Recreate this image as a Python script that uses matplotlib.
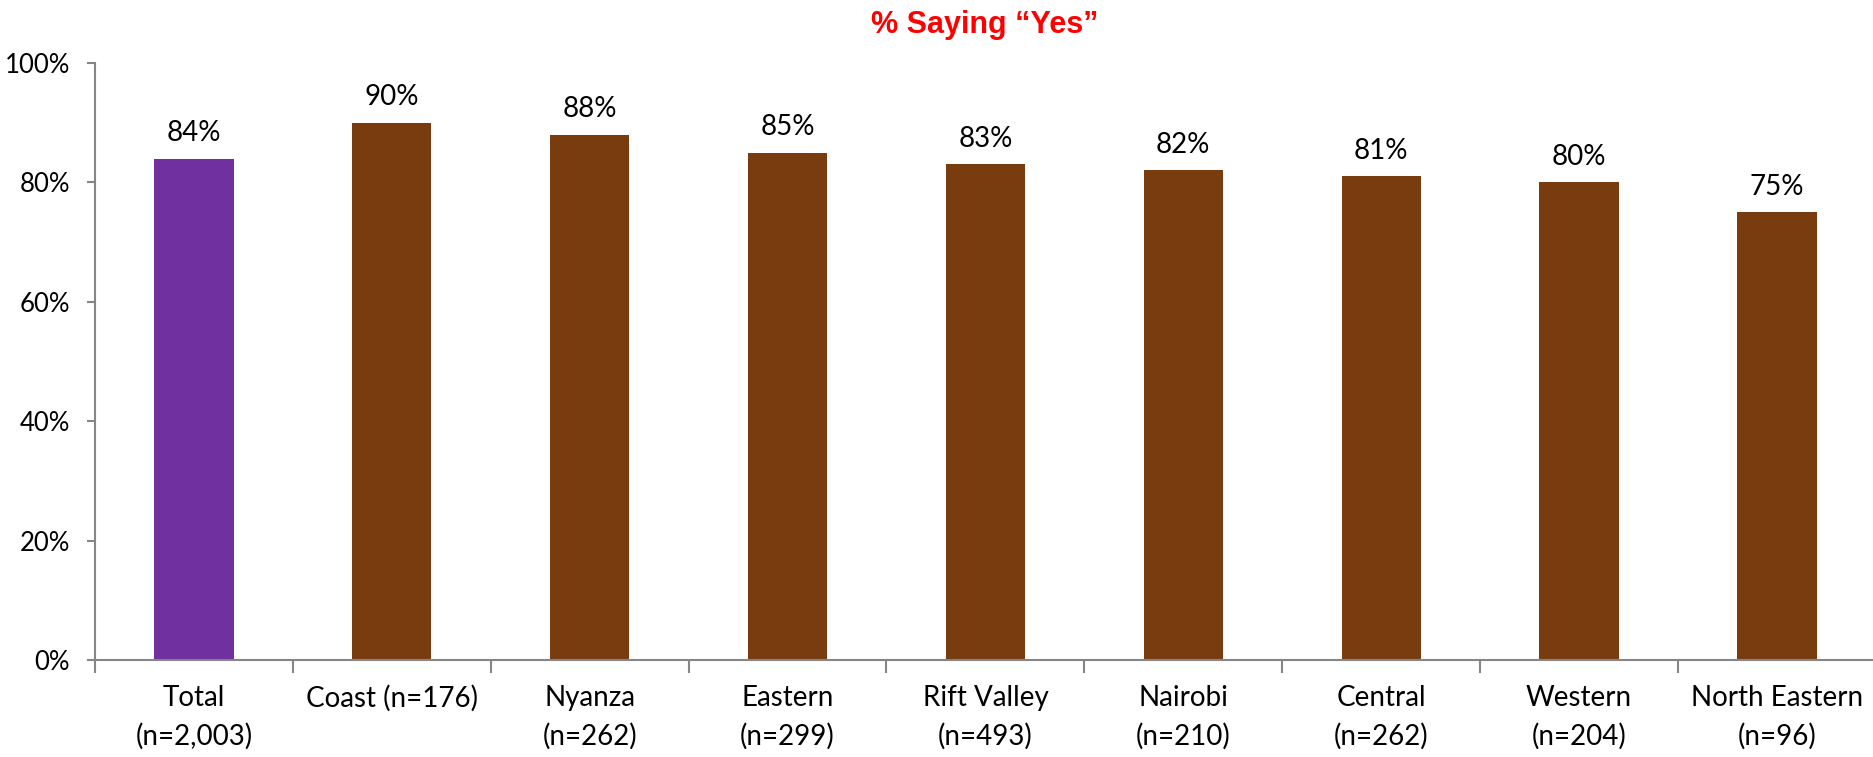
import matplotlib.pyplot as plt
import numpy as np

categories = ["Total\n(n=2,003)", "Coast (n=176)", "Nyanza\n(n=262)", "Eastern\n(n=299)",
              "Rift Valley\n(n=493)", "Nairobi\n(n=210)", "Central\n(n=262)",
              "Western\n(n=204)", "North Eastern\n(n=96)"]
values = [84, 90, 88, 85, 83, 82, 81, 80, 75]
bar_colors = ["#7030A0"] + ["#783C0F"] * 8
yticks = [0, 20, 40, 60, 80, 100]

plt.rcParams['font.family'] = ['Lato', 'DejaVu Sans']

fig = plt.figure(figsize=(18.74, 7.57), dpi=100)
ax = fig.add_axes([95 / 1874, 1 - 660 / 757, 1 - 95 / 1874 + 0.001, (660 - 63) / 757])

x = np.arange(len(categories))
ax.bar(x, values, width=0.4, color=bar_colors)
for xi, v in zip(x, values):
    ax.annotate(f"{v}%", (xi, v), xytext=(0, 9), textcoords="offset points",
                ha="center", va="bottom", fontsize=20, color="black")

ax.set_xlim(-0.5, len(categories) - 0.5)
ax.set_ylim(0, 100)
ax.set_yticks(yticks)
ax.set_yticklabels([f"{t}%" for t in yticks], fontsize=18.5)
ax.set_xticks(x)
ax.set_xticklabels(categories, fontsize=20, linespacing=1.55)
ax.set_xticks(np.arange(len(categories) + 1) - 0.5, minor=True)

gray = "#868686"
for side in ["top", "right"]:
    ax.spines[side].set_visible(False)
for side in ["left", "bottom"]:
    ax.spines[side].set_color(gray)
    ax.spines[side].set_linewidth(1.5)
ax.tick_params(axis="y", length=6, width=1.5, color=gray, pad=12)
ax.tick_params(axis="x", which="major", length=0, pad=18)
ax.tick_params(axis="x", which="minor", length=9, width=1.5, color=gray)

fig.text((95 + 1874) / 2 / 1874, 1 - 25 / 757, "% Saying \u201cYes\u201d", ha="center", va="center",
         fontsize=22, fontweight="bold", color="#FF0000", family="Liberation Sans")

fig.savefig("out.png", dpi=100)
